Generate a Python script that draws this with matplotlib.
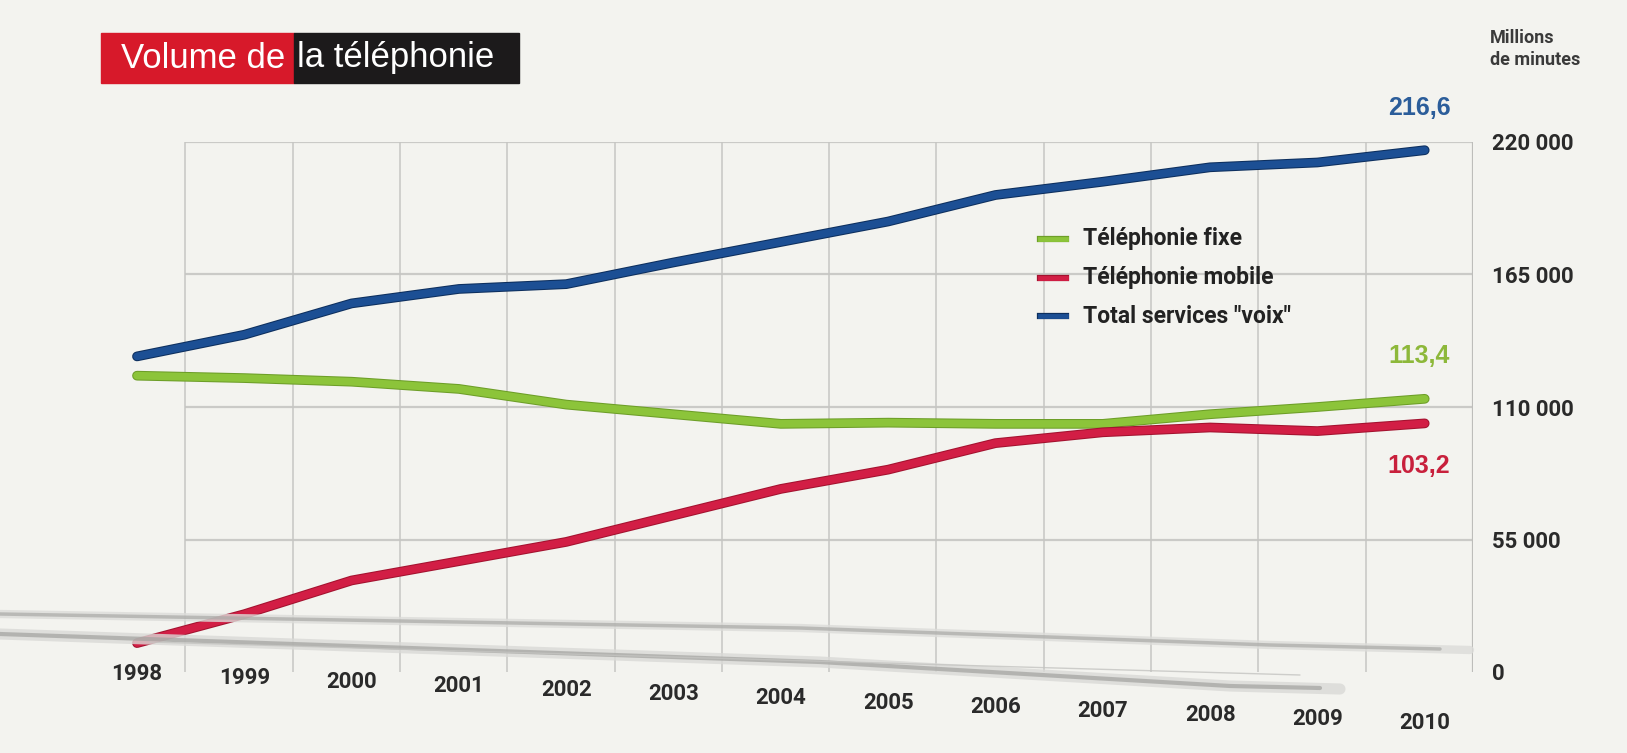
import numpy as np
import matplotlib
matplotlib.use("Agg")
import matplotlib.pyplot as plt
import matplotlib.patheffects as pe
from matplotlib.patches import Rectangle
from matplotlib.lines import Line2D
from matplotlib.transforms import blended_transform_factory

years = [1998, 1999, 2000, 2001, 2002, 2003, 2004, 2005, 2006, 2007, 2008, 2009, 2010]
# millions de minutes
fixe = [123000, 122000, 120500, 117500, 111000, 107000, 103000, 103500, 103000, 103000, 107000, 110000, 113400]
mobile = [12000, 24000, 38000, 46000, 54000, 65000, 76000, 84000, 95000, 99500, 101500, 100000, 103200]
total = [131000, 140000, 153000, 159000, 161000, 170000, 178500, 187000, 198000, 203500, 209500, 211500, 216600]
yticks = [0, 55000, 110000, 165000, 220000]
ytick_labels = ["0", "55 000", "110 000", "165 000", "220 000"]
series_names = ["Téléphonie fixe", "Téléphonie mobile", 'Total services "voix"']
end_labels = ["113,4", "103,2", "216,6"]

BG = "#f3f3ef"
GREEN, RED, BLUE = "#8cc43a", "#d21e45", "#1c4f94"
GREEN_D, RED_D, BLUE_D = "#6d9e28", "#a3122f", "#0d2f5e"
LBL_GREEN, LBL_RED, LBL_BLUE = "#8db83a", "#c8203c", "#2b5d9a"
TXT = "#2a2a2a"
COND = ["Roboto", "DejaVu Sans"]

W, H = 1627, 753
fig = plt.figure(figsize=(W / 100, H / 100), dpi=100, facecolor=BG)

# axes placed so that 1998 -> x~137px, 2010.45 -> x~1473px, 0 -> y~672px, 220000 -> y~142px
x0, x1 = 1997.5, 2010.45
px_per_year = 107.3
left_px = 137 - 0.5 * px_per_year
ax = fig.add_axes([left_px / W, (H - 672) / H, (1473 - left_px) / W, (672 - 142) / H])
ax.set_facecolor("none")
ax.set_xlim(x0, x1)
ax.set_ylim(0, 220000)
for s in ax.spines.values():
    s.set_visible(False)
ax.tick_params(left=False, bottom=False, labelbottom=False, labelleft=False,
               right=False, labelright=True, pad=10)
ax.set_yticks(yticks)
ax.set_yticklabels(ytick_labels, fontsize=16, fontweight="bold", color=TXT, family=COND)

# grid
grid_x = [y + 0.45 for y in years]
ax.hlines(yticks[1:], grid_x[0], grid_x[-1], color="#cacac7", lw=1.6, zorder=1)
ax.vlines(grid_x, -6000, 220000, color="#c6c6c3", lw=1.1, zorder=1)
ax.vlines(grid_x[-1], 0, 220000, color="#bdbdba", lw=1.6, zorder=1)

# floor bands (decoration)
def band(xs, ys, lw, color, alpha):
    fig.add_artist(Line2D(np.array(xs) / W, 1 - np.array(ys) / H, lw=lw, color=color,
                          alpha=alpha, solid_capstyle="round", transform=fig.transFigure, zorder=0.5))

band([0, 800, 1270, 1470], [614, 628, 645, 650], 6, "#dcdcd9", 0.8)
band([0, 800, 1270, 1440], [614, 628, 645, 649], 2.5, "#a9a9a6", 0.7)
band([0, 820, 1230, 1340], [634, 662, 686, 689], 8, "#d9d9d6", 0.8)
band([0, 820, 1230, 1320], [634, 662, 686, 688], 3, "#a2a29f", 0.7)
band([150, 1300], [642, 675], 1.0, "#c4c4c1", 0.8)

# lines
for vals, c, cd in [(fixe, GREEN, GREEN_D), (mobile, RED, RED_D), (total, BLUE, BLUE_D)]:
    ax.plot(years, vals, color=c, lw=5.5, solid_capstyle="round", solid_joinstyle="round", zorder=3,
            path_effects=[pe.Stroke(linewidth=7, foreground=cd), pe.Normal()])

# end value labels
for vals, lab, c in [(total, end_labels[2], LBL_BLUE), (fixe, end_labels[0], LBL_GREEN)]:
    ax.annotate(lab, (years[-1], vals[-1]), xytext=(-4, 22), textcoords="offset points",
                ha="center", va="bottom", fontsize=18, fontweight="bold", color=c, family="Liberation Sans")
ax.annotate(end_labels[1], (years[-1], mobile[-1]), xytext=(-4, -22), textcoords="offset points",
            ha="center", va="top", fontsize=18, fontweight="bold", color=LBL_RED, family="Liberation Sans")

# year labels, slanting down to the right
tr = blended_transform_factory(ax.transData, fig.transFigure)
for i, yr in enumerate(years):
    ypx = 674 + 49 * i / (len(years) - 1)
    ax.text(yr, 1 - ypx / H, str(yr), transform=tr, ha="center", va="center",
            fontsize=16, fontweight="bold", color=TXT, family=COND)

# legend
for i, (name, c, cd) in enumerate(zip(series_names, [GREEN, RED, BLUE], [GREEN_D, RED_D, BLUE_D])):
    ypx = 239 + 38.5 * i
    fig.add_artist(Line2D([1040 / W, 1066 / W], [1 - ypx / H] * 2, lw=3.5, color=c,
                          transform=fig.transFigure,
                          path_effects=[pe.Stroke(linewidth=4.5, foreground=cd), pe.Normal()]))
    fig.text(1083 / W, 1 - ypx / H, name, ha="left", va="center", fontsize=16.5,
             fontweight="bold", color="#222222", family=COND)

# unit
fig.text(1490 / W, 1 - 49 / H, "Millions\nde minutes", ha="left", va="center", fontsize=13,
         fontweight="bold", color="#3a3a3a", family=COND, linespacing=1.3)

# title box
fig.add_artist(Rectangle((101 / W, 1 - 83 / H), (294 - 101) / W, 50 / H, color="#d7192a",
                         transform=fig.transFigure))
fig.add_artist(Rectangle((294 / W, 1 - 83 / H), (519 - 294) / W, 50 / H, color="#1c1a1b",
                         transform=fig.transFigure))
fig.text(121 / W, 1 - 58 / H, "Volume de", ha="left", va="center", fontsize=25, color="white",
         family="Liberation Sans")
fig.text(297 / W, 1 - 58 / H, "la téléphonie", ha="left", va="center", fontsize=25, color="white",
         family="Liberation Sans")

fig.savefig("out.png", dpi=100, facecolor=BG)
